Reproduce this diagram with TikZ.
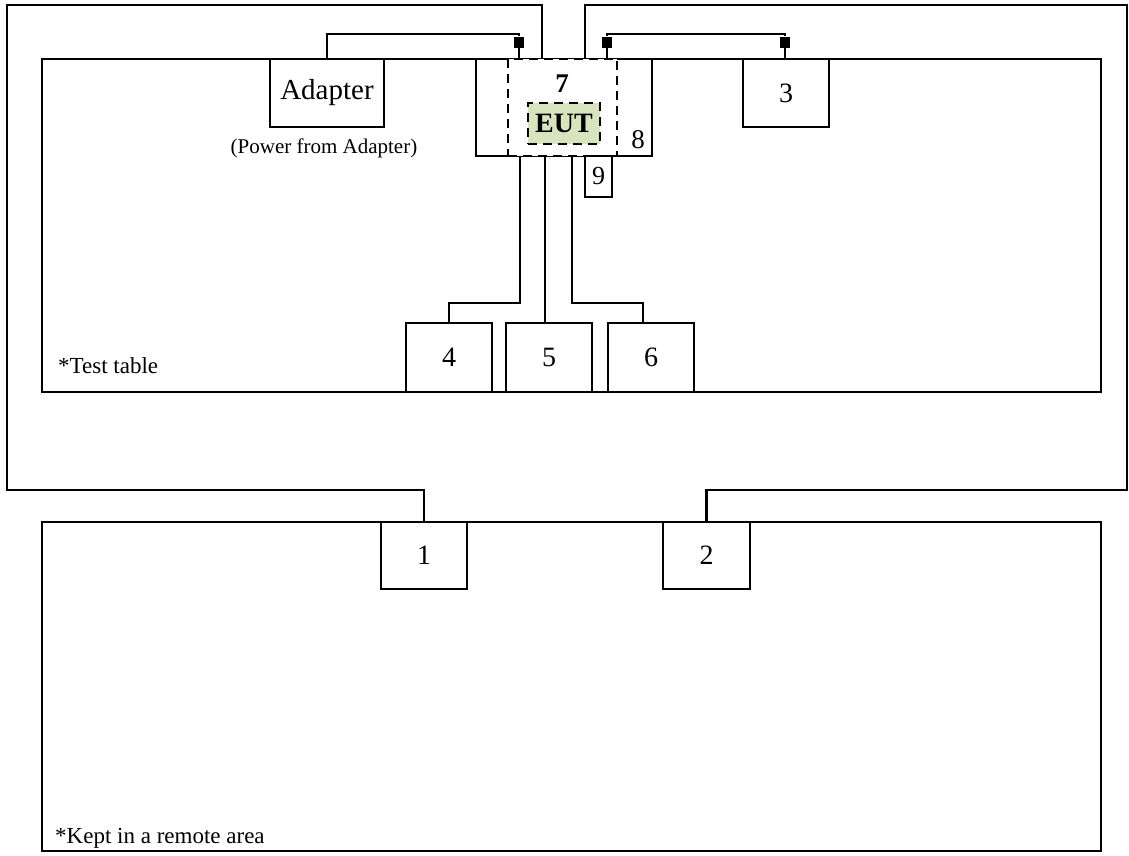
\documentclass[tikz,border=0pt]{standalone}
\usepackage{fontspec}
\setmainfont{Liberation Serif}
\definecolor{eutgreen}{RGB}{215,228,189}
\tikzstyle{area} = [
 rectangle,
 draw,
 line width=2.5pt,
 inner sep=0pt
]
\tikzstyle{unit} = [
 rectangle,
 draw,
 fill=white,
 line width=2.5pt,
 inner sep=0pt,
 align = center,
 font=\fontsize{28}{30}\selectfont
]
\tikzstyle{plug} = [
 rectangle,
 fill=black,
 minimum width=10pt,
 minimum height=11pt,
 inner sep=0pt
]
\tikzstyle{cable} = [line width=2.5pt]
\tikzstyle{note} = [inner sep=0pt, font=\fontsize{23}{25}\selectfont]

\begin{document}
\begin{tikzpicture}[x=1pt, y=-1pt]
  \useasboundingbox (0,0) rectangle (1129,855);
  % test table and remote area
  \node [area, minimum width=1059pt, minimum height=333pt] (table) at (571.5,225.5) {};
  \node [area, minimum width=1059pt, minimum height=329pt] (remote) at (571.5,686.5) {};
  \node [note, anchor=base west] (tabletxt) at (58,373) {*Test table};
  \node [note, anchor=base west] (remotetxt) at (55,843) {*Kept in a remote area};
  % units on the table
  \node [unit, minimum width=114pt, minimum height=68pt, font=\fontsize{29}{30}\selectfont] (adapter) at (327,93) {Adapter};
  \node [note, anchor=base, font=\fontsize{21}{23}\selectfont] (powertxt) at (324,153) {(Power from Adapter)};
  \node [unit, minimum width=176pt, minimum height=97pt] (host) at (564,107.5) {};
  \node [unit, dash pattern=on 9pt off 6pt, minimum width=109pt, minimum height=97pt] (eutzone) at (562.5,107.5) {};
  \node [unit, dash pattern=on 9pt off 6pt, fill=eutgreen, minimum width=72pt, minimum height=41pt, font=\fontsize{28}{30}\bfseries] (eut) at (564,123.5) {EUT};
  \node [note, font=\fontsize{27}{29}\bfseries] (seven) at (562,84) {7};
  \node [note, font=\fontsize{27}{29}\selectfont] (eight) at (638,140) {8};
  \node [unit, minimum width=27pt, minimum height=41pt, font=\fontsize{26}{28}\selectfont] (nine) at (598.5,176.5) {9};
  \node [unit, minimum width=86pt, minimum height=68pt] (three) at (786,93) {3};
  \node [unit, minimum width=86pt, minimum height=69pt] (four) at (449,357.5) {4};
  \node [unit, minimum width=86pt, minimum height=69pt] (five) at (549,357.5) {5};
  \node [unit, minimum width=86pt, minimum height=69pt] (six) at (651,357.5) {6};
  % units in the remote area
  \node [unit, minimum width=86pt, minimum height=67pt] (one) at (424,555.5) {1};
  \node [unit, minimum width=87pt, minimum height=67pt] (two) at (706.5,555.5) {2};
  % plugs
  \node [plug] (plugA) at (519,42) {};
  \node [plug] (plugB) at (607,42) {};
  \node [plug] (plugC) at (785,42) {};
  \coordinate (bendA) at (519,34);
  \coordinate (bendB) at (607,34);
  \coordinate (bendC) at (785,34);
  % cables
  \draw [cable] (adapter.north) |- (bendA) -- (plugA) -- (plugA |- host.north);
  \draw [cable] (plugB |- host.north) -- (plugB) -- (bendB) -- (bendC) -- (plugC) -- (plugC |- three.north);
  \draw [cable] (host.south -| 520,0) |- ([yshift=19pt]four.north) -- (four.north);
  \draw [cable] (host.south -| 545,0) -- (five.north -| 545,0);
  \draw [cable] (host.south -| 572,0) |- ([xshift=-8pt,yshift=19pt]six.north) -- ([xshift=-8pt]six.north);
  \draw [cable] (one.north) |- (7,490) |- (542,5) -- (542,5 |- host.north);
  \draw [cable] (two.north) |- (1127,490) |- (585,5) -- (585,5 |- host.north);
\end{tikzpicture}
\end{document}
